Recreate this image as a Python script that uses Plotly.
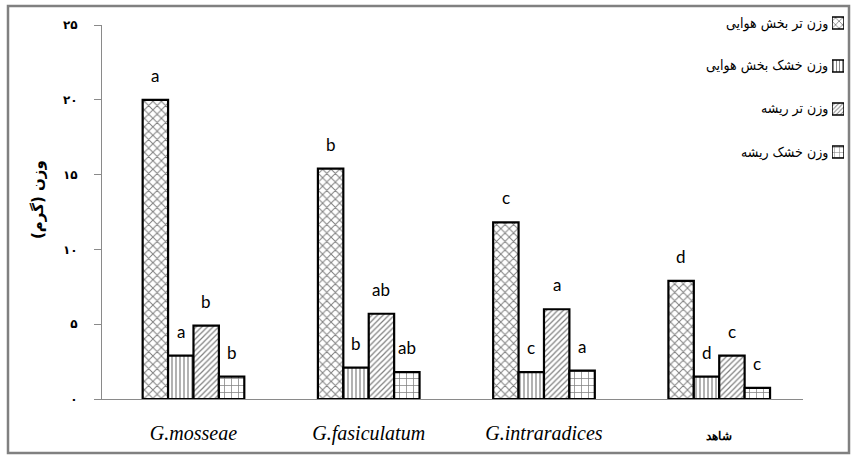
import plotly.graph_objects as go

categories = ["G.mosseae", "G.fasiculatum", "G.intraradices", "شاهد"]
series_names = ["وزن تر بخش هوایی", "وزن خشک بخش هوایی", "وزن تر ریشه", "وزن خشک ریشه"]
fresh_shoot = [20.0, 15.4, 11.8, 7.9]
dry_shoot = [2.9, 2.1, 1.8, 1.5]
fresh_root = [4.9, 5.7, 6.0, 2.9]
dry_root = [1.5, 1.8, 1.9, 0.75]
letters_fresh_shoot = ["a", "b", "c", "d"]
letters_dry_shoot = ["a", "b", "c", "d"]
letters_fresh_root = ["b", "ab", "a", "c"]
letters_dry_root = ["b", "ab", "a", "c"]
y_tick_vals = [0, 5, 10, 15, 20, 25]
y_tick_text = ["۰", "۵", "۱۰", "۱۵", "۲۰", "۲۵"]
y_title = "وزن (گرم)"

series_values = [fresh_shoot, dry_shoot, fresh_root, dry_root]
series_letters = [letters_fresh_shoot, letters_dry_shoot, letters_fresh_root, letters_dry_root]
pat_shapes = ["x", "|", "/", "+"]
pat_sizes = [6, 4, 4, 7]
pat_solid = [0.3, 0.3, 0.3, 0.2]

# body margin is removed (post_script), so figure pixels == page pixels
W, H = 856, 459
PX_L, PX_R, PX_T, PX_B = 102, 803, 25, 399   # plot area edges
BARGAP = 0.42
X_RANGE = [-0.522, 3.478]


def px_x(x):
    return x / W


def px_y(y):
    return 1 - y / H


fig = go.Figure()
for i, (name, vals) in enumerate(zip(series_names, series_values)):
    fig.add_trace(go.Bar(
        x=categories, y=vals, name=name, showlegend=False,
        marker=dict(
            color="white",
            line=dict(color="black", width=2.2),
            pattern=dict(shape=pat_shapes[i], size=pat_sizes[i], solidity=pat_solid[i],
                         fgcolor="black", bgcolor="white", fillmode="overlay"),
        ),
    ))

# legend swatches (symbol to the right of the text, as in the reference)
ROW0, ROWGAP = 23, 43
legend_rows = list(range(len(series_names)))
fig.add_trace(go.Bar(
    x=[1] * len(series_names), y=legend_rows, orientation="h", width=12 / ROWGAP,
    xaxis="x2", yaxis="y2", showlegend=False, hoverinfo="skip",
    marker=dict(
        color="white", line=dict(color="black", width=1.5),
        pattern=dict(shape=pat_shapes, size=[5, 3, 3, 5], solidity=pat_solid,
                     fgcolor="black", bgcolor="white", fillmode="overlay"),
    ),
))

cat_px = (PX_R - PX_L) / (X_RANGE[1] - X_RANGE[0])
bar_px = cat_px * (1 - BARGAP) / len(series_values)
annotations = []
for i, (vals, lets) in enumerate(zip(series_values, series_letters)):
    for c, v, t in zip(categories, vals, lets):
        annotations.append(dict(
            x=c, y=v, xref="x", yref="y", text=t, showarrow=False,
            xshift=(i - 1.5) * bar_px, yanchor="bottom", yshift=12,
            font=dict(family="Lato, Open Sans, sans-serif", size=17, color="black"),
        ))

for k, name in enumerate(series_names):
    annotations.append(dict(
        x=px_x(830), y=px_y(ROW0 + k * ROWGAP), xref="paper", yref="paper", text=name,
        showarrow=False, xanchor="right", yanchor="middle",
        font=dict(family="DejaVu Sans Condensed, DejaVu Sans", size=14, color="black"),
    ))

annotations.append(dict(
    x=px_x(38), y=px_y(200), xref="paper", yref="paper", text=y_title, textangle=-90,
    showarrow=False, xanchor="center", yanchor="middle",
    font=dict(family="DejaVu Sans", size=15, color="black", weight="bold"),
))

tick_text_x = [c if c.startswith("G.") else
               f"<span style='font-size:12px;font-style:normal;font-weight:bold'>{c}</span>"
               for c in categories]

SW_BOTTOM = ROW0 + 3.5 * ROWGAP
fig.update_layout(
    width=W, height=H,
    margin=dict(l=0, r=0, t=0, b=0, autoexpand=False),
    paper_bgcolor="white", plot_bgcolor="white",
    barmode="group", bargap=BARGAP, bargroupgap=0,
    showlegend=False,
    annotations=annotations,
    shapes=[dict(
        type="rect", xref="paper", yref="paper",
        x0=px_x(8), x1=px_x(849), y0=px_y(453), y1=px_y(6),
        line=dict(color="#808080", width=2.5), fillcolor="rgba(0,0,0,0)", layer="above",
    )],
    xaxis=dict(
        domain=[px_x(PX_L), px_x(PX_R)], automargin=False, range=X_RANGE,
        showline=True, linecolor="#8a8a8a", linewidth=1, ticks="",
        showgrid=False, zeroline=False,
        tickmode="array", tickvals=categories, ticktext=tick_text_x,
        tickfont=dict(family="Liberation Serif", size=20, color="black", style="italic"),
        ticklabelstandoff=16,
    ),
    yaxis=dict(
        domain=[px_y(PX_B), px_y(PX_T)], automargin=False,
        range=[0, 25], tickvals=y_tick_vals, ticktext=y_tick_text,
        showline=True, linecolor="#8a8a8a", linewidth=1,
        ticks="outside", ticklen=7, tickcolor="#8a8a8a",
        showgrid=False, zeroline=False,
        tickfont=dict(family="DejaVu Sans", size=12, color="black", weight="bold"),
        ticklabelstandoff=14,
    ),
    xaxis2=dict(domain=[px_x(832), px_x(844)], range=[0, 1], anchor="y2",
                visible=False, fixedrange=True, automargin=False),
    yaxis2=dict(domain=[px_y(SW_BOTTOM), 1.0],
                range=[(SW_BOTTOM - ROW0) / ROWGAP, -ROW0 / ROWGAP], anchor="x2",
                visible=False, fixedrange=True, automargin=False),
)

fig.write_html("out.html", config={"displayModeBar": False},
               post_script="document.body.style.margin='0px';")
